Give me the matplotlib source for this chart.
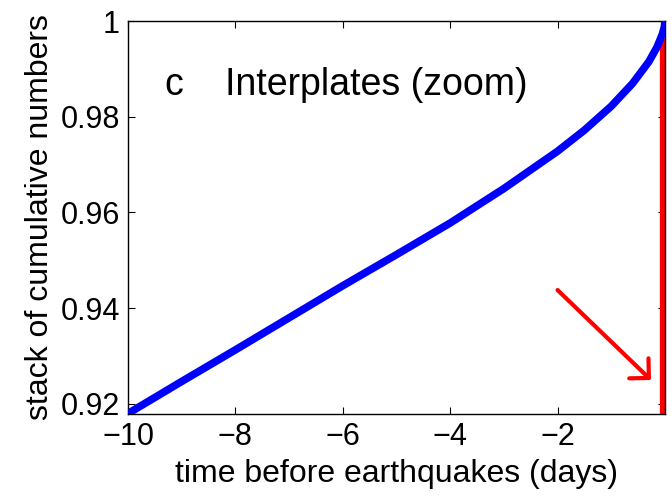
import matplotlib
matplotlib.use('Agg')
import matplotlib.pyplot as plt
import numpy as np

plt.rcParams['font.family'] = ['Liberation Sans', 'DejaVu Sans']

# stacked cumulative count before interplate events (zoomed to the last 10 days)
days = [-10, -9, -8, -7, -6, -5, -4, -3, -2, -1.5, -1, -0.6, -0.3, -0.15, -0.05, -0.01, 0]
stack = [0.918, 0.9247, 0.9313, 0.938, 0.9447, 0.9512, 0.9578, 0.9650, 0.9728,
         0.9772, 0.9822, 0.9870, 0.9915, 0.9945, 0.9972, 0.9988, 1.0]

# red jump at the event time
jump_x = [-0.03, -0.03]
jump_y = [0.9179, 0.9963]

# arrow pointing at the jump
arrow_tail = (-2.0, 0.9438)
arrow_tip = (-0.26, 0.925)

xticks = [-10, -8, -6, -4, -2]
yticks = [0.92, 0.94, 0.96, 0.98, 1.0]
ytick_labels = ['0.92', '0.94', '0.96', '0.98', '1']

fig = plt.figure(figsize=(6.72, 4.97), dpi=100)
ax = fig.add_axes([0.1905, 0.167, 0.799, 0.7907])

ax.plot(jump_x, jump_y, color='red', linewidth=4.5, solid_capstyle='butt', zorder=2)
ax.plot(days, stack, color='blue', linewidth=5.5, zorder=3)

ax.annotate('', xy=arrow_tip, xytext=arrow_tail,
            arrowprops=dict(arrowstyle='->,head_length=0.5,head_width=0.5',
                            mutation_scale=20, color='red', linewidth=3,
                            shrinkA=0, shrinkB=0))

ax.text(-9.33, 0.9846, 'c', fontsize=27)
ax.text(-8.19, 0.9846, 'Interplates (zoom)', fontsize=27)

ax.set_xlim(-10, 0)
ax.set_ylim(0.9179, 1.0)
ax.set_xticks(xticks)
ax.set_yticks(yticks)
ax.set_yticklabels(ytick_labels)
ax.tick_params(direction='in', length=5, width=0.8, top=True, right=True,
               labelsize=22, pad=6)
for s in ax.spines.values():
    s.set_linewidth(1.0)

ax.set_xlabel('time before earthquakes (days)', fontsize=23, labelpad=5)
ax.set_ylabel('stack of cumulative numbers', fontsize=23, labelpad=4)

fig.savefig('out.png', dpi=100)
